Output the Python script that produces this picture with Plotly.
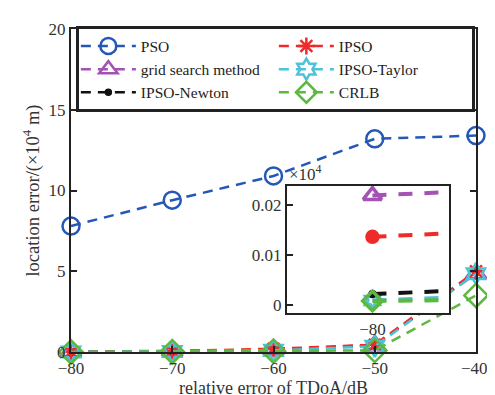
import plotly.graph_objects as go

x_db = [-80, -70, -60, -50, -40]
pso = [7.8, 9.4, 10.9, 13.2, 13.4]
ipso = [0.0137, 0.06, 0.2, 0.45, 5.0]
grid = [0.022, 0.05, 0.12, 0.45, 4.85]
taylor = [0.0009, 0.03, 0.1, 0.35, 4.85]
newton = [0.0022, 0.03, 0.1, 0.4, 4.9]
crlb = [0.0008, 0.02, 0.05, 0.1, 3.5]

# name, values, colour, main symbol, size, inset symbol, inset size, legend column
series = [
    ("PSO", pso, "#2457b8", "circle-open", 17, "circle-open", 0, "c1"),
    ("grid search method", grid, "#a453b4", "triangle-up-open", 18, "triangle-up-open", 16, "c1"),
    ("IPSO-Newton", newton, "#111111", "circle", 5, "circle", 5, "c1"),
    ("IPSO", ipso, "#ee2a2a", "asterisk-open", 14, "circle", 11, "c2"),
    ("IPSO-Taylor", taylor, "#4cc3d6", "hexagram-open", 16, "hexagram-open", 12, "c2"),
    ("CRLB", crlb, "#5db83f", "diamond-open", 18, "diamond-open", 15, "c2"),
]

font = "Liberation Serif"
fs = 17
fig = go.Figure()
for name, vals, col, sym, size, isym, isize, grp in series:
    fig.add_trace(go.Scatter(
        x=x_db, y=vals, name=name, mode="lines+markers", cliponaxis=False,
        legendgroup=grp,
        line=dict(color=col, width=2.5, dash="10px,7px"),
        marker=dict(symbol=sym, size=size, color=col, line=dict(color=col, width=2.5)),
        xaxis="x", yaxis="y"))

# inset traces (zoom at -80 dB)
inset_order = ["PSO", "IPSO-Taylor", "IPSO-Newton", "IPSO", "grid search method", "CRLB"]
for name, vals, col, sym, size, isym, isize, grp in sorted(series, key=lambda s: inset_order.index(s[0])):
    if name == "PSO":
        continue
    fig.add_trace(go.Scatter(
        x=x_db, y=vals, name=name, mode="lines+markers", showlegend=False,
        legendgroup=grp,
        line=dict(color=col, width=4, dash="14px,12px"),
        marker=dict(symbol=isym, size=isize, color=col, line=dict(color=col, width=3.5)),
        xaxis="x2", yaxis="y2"))

axis_common = dict(showline=True, linecolor="#222", linewidth=2, mirror="ticks",
                   ticks="inside", tickcolor="#222", tickwidth=2, ticklen=6,
                   showgrid=False, zeroline=False, ticklabeloverflow="allow",
                   tickfont=dict(family=font, size=fs, color="#333"))

fig.update_layout(
    width=495, height=395,
    margin=dict(l=63, r=13, t=14, b=50),
    paper_bgcolor="white", plot_bgcolor="white",
    font=dict(family=font, size=fs, color="#333"),
    xaxis=dict(range=[-80, -40], tickvals=[-80, -70, -60, -50, -40],
               ticktext=["\u221280", "\u221270", "\u221260", "\u221250", "\u221240\u2009"],
               title=dict(text="relative error of TDoA/dB", standoff=0,
                          font=dict(family=font, size=18, color="#333")), **axis_common),
    yaxis=dict(range=[0, 20], tickvals=[0, 5, 10, 15, 20],
               title=dict(text="location error/(\u00d710<sup>4</sup> m)", standoff=4,
                          font=dict(family=font, size=18.5, color="#333")), **axis_common),
    xaxis2=dict(domain=[0.533, 0.934], anchor="y2", range=[-80.0527, -79.9527],
                tickvals=[-80], ticktext=["\u221280"], showline=True, linecolor="#222",
                linewidth=2, mirror=True, ticks="", showgrid=False, zeroline=False,
                tickfont=dict(family=font, size=fs, color="#333")),
    yaxis2=dict(domain=[0.121, 0.514], anchor="x2", range=[-0.0016, 0.0239],
                tickvals=[0, 0.01, 0.02], ticktext=["0", "0.01", "0.02"],
                showline=True, linecolor="#222", linewidth=2, mirror=True,
                ticks="inside", tickcolor="#222", tickwidth=2, ticklen=6,
                showgrid=False, zeroline=False,
                tickfont=dict(family=font, size=fs, color="#333")),
    legend=dict(orientation="h", x=0.012, y=1.008, xanchor="left", yanchor="top",
                traceorder="grouped", tracegroupgap=22,
                entrywidth=128, itemwidth=55, bgcolor="white",
                bordercolor="#222", borderwidth=3,
                font=dict(family=font, size=15.5, color="#222")),
    annotations=[dict(text="\u00d710<sup>4</sup>", xref="paper", yref="paper",
                      x=0.533, y=0.514, xanchor="left", yanchor="bottom",
                      showarrow=False, font=dict(family=font, size=fs, color="#333"))],
    showlegend=True,
)

fig.write_html("out.html")
